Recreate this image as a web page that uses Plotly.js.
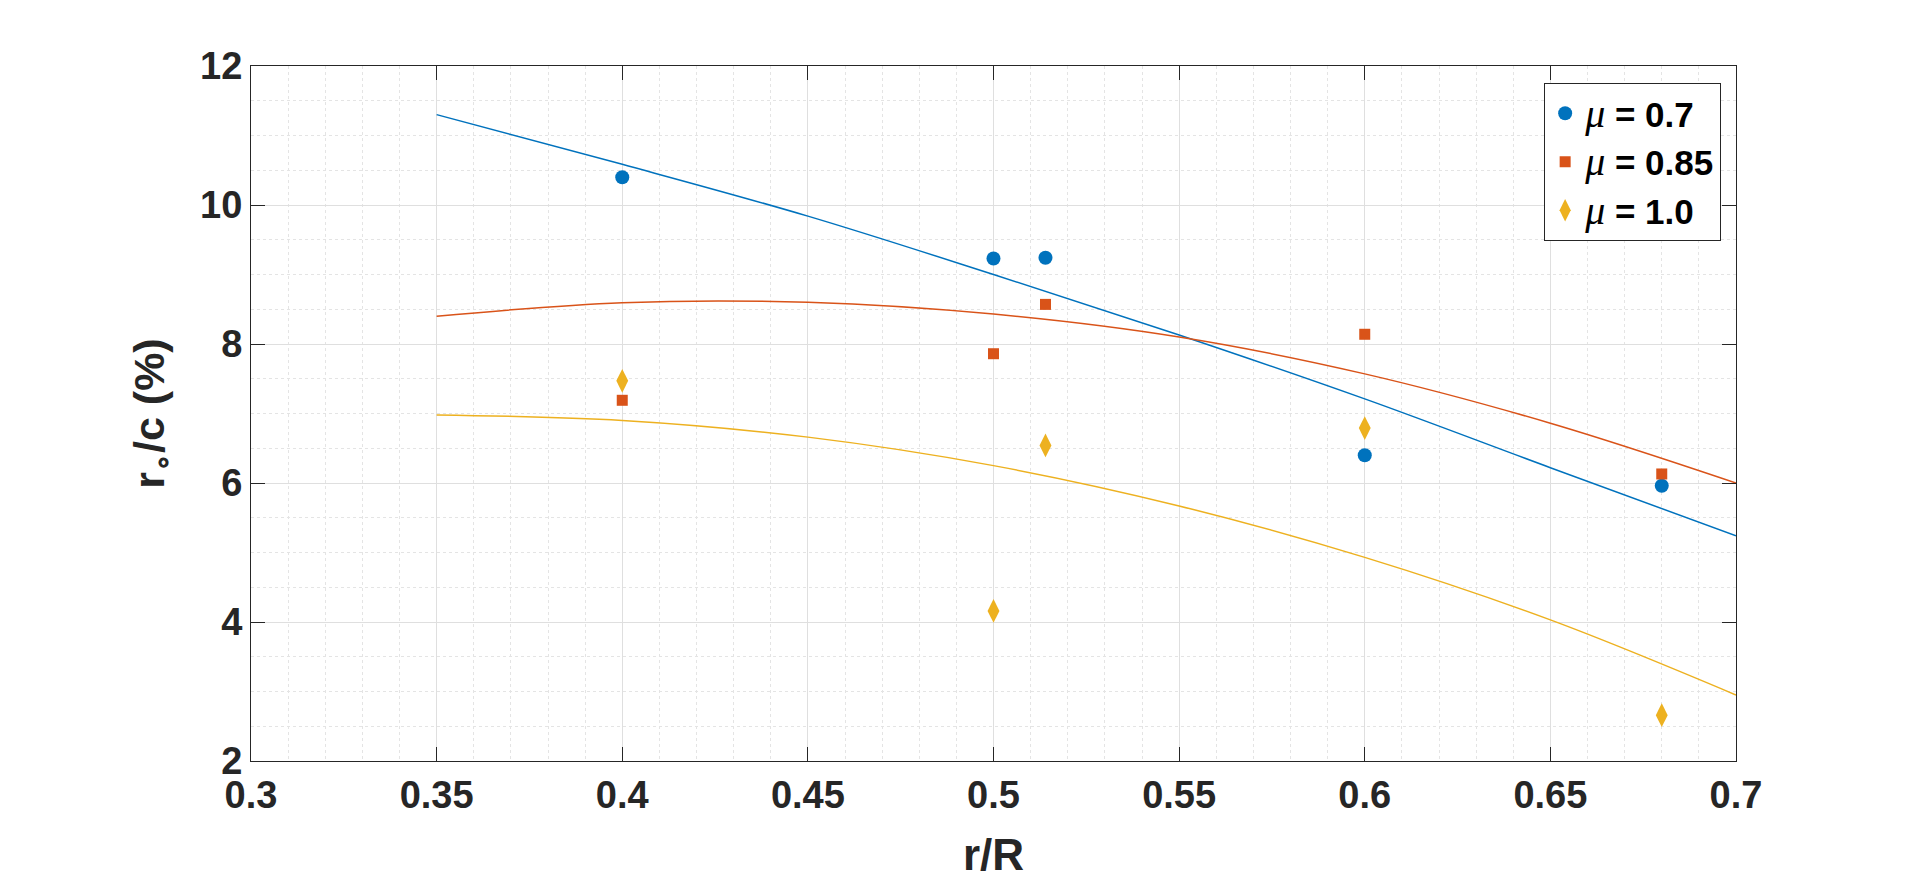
<!DOCTYPE html>
<html>
<head>
<meta charset="utf-8">
<script src="https://cdn.plot.ly/plotly-3.0.1.min.js"></script>
<style>html,body{margin:0;padding:0;background:#fff;}#chart{width:1920px;height:879px;}</style>
</head>
<body>
<div id="chart"></div>
<script>
// measured data points
const rR = [0.4, 0.5, 0.514, 0.6, 0.68];
const mu07 = [10.40, 9.23, 9.24, 6.40, 5.96];
const mu085 = [7.19, 7.86, 8.57, 8.14, 6.13];
const mu10 = [7.47, 4.16, 6.54, 6.79, 2.66];

// fitted curves
const fitX = [0.35, 0.40, 0.45, 0.50, 0.55, 0.60, 0.65, 0.70];
const fit07 = [11.30, 10.585, 9.84, 9.00, 8.13, 7.21, 6.22, 5.24];
const fit085 = [8.40, 8.595, 8.60, 8.43, 8.10, 7.57, 6.86, 6.00];
const fit10 = [6.98, 6.90, 6.66, 6.25, 5.67, 4.93, 4.03, 2.95];

const xTicks = [0.3, 0.35, 0.4, 0.45, 0.5, 0.55, 0.6, 0.65, 0.7];
const xTickText = ['0.3', '0.35', '0.4', '0.45', '0.5', '0.55', '0.6', '0.65', '0.7'];
const yTicks = [2, 4, 6, 8, 10, 12];

const names = ['0.7', '0.85', '1.0'];
const colors = ['#0072BD', '#D95319', '#EDB120'];
const muLabel = v => '<span style="font-family:\'Liberation Serif\',serif;font-style:italic;font-weight:normal;font-size:40px">μ</span> = ' + v;

const traces = [
  {x: fitX, y: fit07, mode: 'lines', line: {color: colors[0], width: 1.5, shape: 'spline'}, showlegend: false, hoverinfo: 'skip'},
  {x: fitX, y: fit085, mode: 'lines', line: {color: colors[1], width: 1.5, shape: 'spline'}, showlegend: false, hoverinfo: 'skip'},
  {x: fitX, y: fit10, mode: 'lines', line: {color: colors[2], width: 1.5, shape: 'spline'}, showlegend: false, hoverinfo: 'skip'},
  {x: rR, y: mu07, mode: 'markers', name: muLabel(names[0]), marker: {symbol: 'circle', size: 14, color: colors[0]}},
  {x: rR, y: mu085, mode: 'markers', name: muLabel(names[1]), marker: {symbol: 'square', size: 11, color: colors[1]}},
  {x: rR, y: mu10, mode: 'markers', name: muLabel(names[2]), marker: {symbol: 'diamond-tall', size: 17, color: colors[2]}}
];

const axisCommon = {
  showline: true, linecolor: '#262626', linewidth: 1, mirror: 'ticks',
  ticks: 'inside', ticklen: 14, tickwidth: 1, tickcolor: '#262626',
  showgrid: true, gridcolor: '#dfdfdf', gridwidth: 1, zeroline: false,
  tickfont: {family: 'Liberation Sans, Arial, sans-serif', size: 38, color: '#262626', weight: 'bold'}
};

const layout = {
  width: 1920, height: 879,
  paper_bgcolor: '#ffffff', plot_bgcolor: '#ffffff',
  margin: {l: 251, r: 184, t: 66, b: 118},
  font: {family: 'Liberation Sans, Arial, sans-serif', color: '#262626'},
  xaxis: Object.assign({}, axisCommon, {
    range: [0.3, 0.7], tickmode: 'array', tickvals: xTicks, ticktext: xTickText,
    minor: {dtick: 0.01, showgrid: true, gridcolor: '#e4e4e4', griddash: '3px,3px', gridwidth: 1, ticks: ''},
    title: {text: 'r/R', font: {size: 44, weight: 'bold', color: '#262626'}, standoff: 25}
  }),
  yaxis: Object.assign({}, axisCommon, {
    range: [2, 12], tickmode: 'array', tickvals: yTicks,
    minor: {dtick: 0.5, showgrid: true, gridcolor: '#e4e4e4', griddash: '3px,3px', gridwidth: 1, ticks: ''},
    title: {text: 'r<sub>∘</sub>/c (%)', font: {size: 43, weight: 'bold', color: '#262626'}, standoff: 22}
  }),
  legend: {
    x: 0.990, y: 0.9755, xanchor: 'right', yanchor: 'top',
    bgcolor: '#ffffff', bordercolor: '#262626', borderwidth: 1,
    font: {family: 'Liberation Sans, Arial, sans-serif', size: 35, color: '#000000', weight: 'bold'}
  },
  showlegend: true
};

Plotly.newPlot('chart', traces, layout, {staticPlot: true, displayModeBar: false});
</script>
</body>
</html>
